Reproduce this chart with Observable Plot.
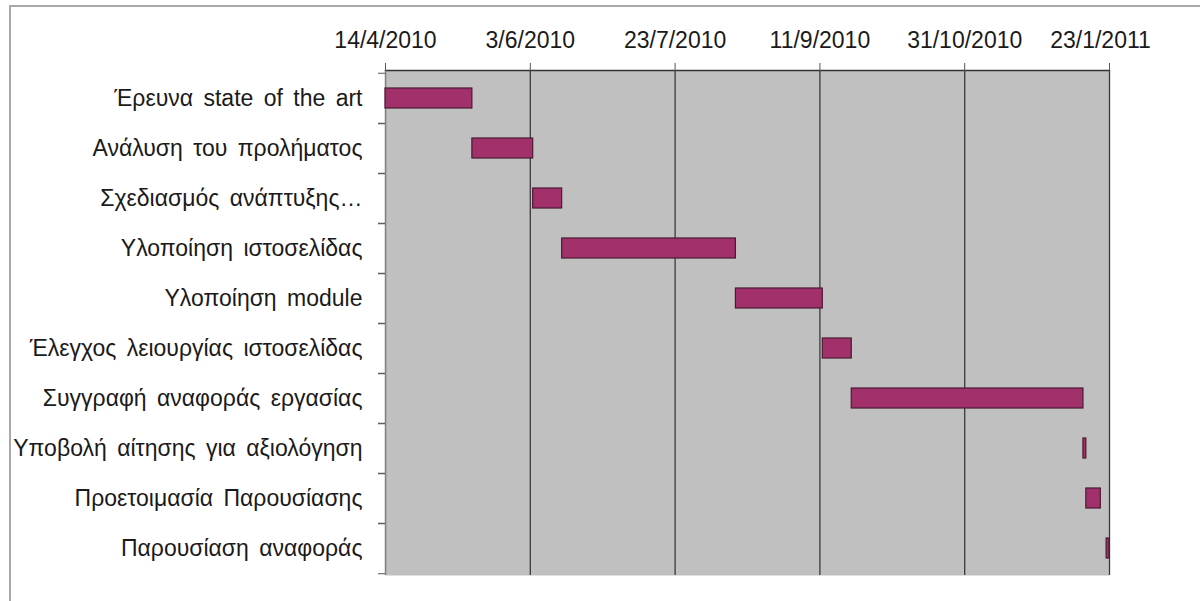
<!DOCTYPE html>
<html><head><meta charset="utf-8">
<script src="https://cdn.jsdelivr.net/npm/d3@7"></script>
<script src="https://cdn.jsdelivr.net/npm/@observablehq/plot@0.6"></script>
<style>
body{margin:0;background:#fff;width:1200px;height:601px;overflow:hidden;position:relative;font-family:"Liberation Sans",Arial,sans-serif;}
#frame{position:absolute;left:9px;top:5px;width:1400px;height:800px;border-top:2px solid #a8a8a8;border-left:2px solid #a8a8a8;}
#chart{position:absolute;left:0;top:0;}
#chart svg text{word-spacing:4px;}
</style></head><body><div id="frame"></div><div id="chart"></div>
<script>
const tasks = [
  "Έρευνα state of the art",
  "Ανάλυση του προλήματος",
  "Σχεδιασμός ανάπτυξης…",
  "Υλοποίηση ιστοσελίδας",
  "Υλοποίηση module",
  "Έλεγχος λειουργίας ιστοσελίδας",
  "Συγγραφή αναφοράς εργασίας",
  "Υποβολή αίτησης για αξιολόγηση",
  "Προετοιμασία Παρουσίασης",
  "Παρουσίαση αναφοράς"
];
const starts = ["2010-04-14","2010-05-14","2010-06-04","2010-06-14","2010-08-13","2010-09-12","2010-09-22","2010-12-11","2010-12-12","2010-12-19"];
const ends   = ["2010-05-14","2010-06-04","2010-06-14","2010-08-13","2010-09-12","2010-09-22","2010-12-11","2010-12-12","2010-12-17","2010-12-20"];
const axisRange = ["2010-04-14","2010-12-20"];
const tickPositions = ["2010-04-14","2010-06-03","2010-07-23","2010-09-11","2010-10-31","2010-12-20"];
const tickLabels = ["14/4/2010","3/6/2010","23/7/2010","11/9/2010","31/10/2010","23/1/2011"];

const parse = d3.utcParse("%Y-%m-%d");
const tickDates = tickPositions.map(parse);
const data = tasks.map((t, i) => ({task: t, start: parse(starts[i]), end: parse(ends[i])}));
const fmt = d => tickLabels[tickDates.findIndex(t => +t === +d)];
const lastTick = tickDates[tickDates.length - 1];

const H = 601, MT = 70, MB = 26;
const half = (H - MT - MB) / tasks.length / 2;

const plot = Plot.plot({
  width: 1200, height: H,
  marginLeft: 385, marginRight: 91, marginTop: MT, marginBottom: MB,
  style: {fontFamily: '"Liberation Sans", Arial, sans-serif', fontSize: "23px", color: "#1a1a1a", background: "transparent"},
  x: {type: "utc", domain: axisRange.map(parse), label: null},
  y: {domain: tasks, paddingInner: 0.604, paddingOuter: 0.302, align: 0.5, label: null},
  marks: [
    Plot.frame({fill: "#c0c0c0"}),
    Plot.gridX(tickDates, {stroke: "#3a3a3a", strokeOpacity: 1, strokeWidth: 1.3}),
    Plot.frame({anchor: "top", stroke: "#333", strokeWidth: 1.3}),
    Plot.ruleX([parse(axisRange[0])], {stroke: "#808080"}),
    Plot.axisX(tickDates, {anchor: "top", tickSize: 8, tickPadding: 15, tickFormat: d => +d === +lastTick ? "" : fmt(d), stroke: "#555", label: null}),
    Plot.axisX([lastTick], {anchor: "top", tickSize: 0, tickPadding: 23, dx: -9, tickFormat: fmt, label: null}),
    Plot.axisY({anchor: "left", tickSize: 0, tickPadding: 23, label: null}),
    Plot.axisY({anchor: "left", tickSize: 7, tickFormat: () => "", dy: half, stroke: "#555", label: null}),
    Plot.axisY({anchor: "left", tickSize: 7, tickFormat: () => "", dy: -half, stroke: "#555", label: null}),
    Plot.barX(data, {x1: "start", x2: "end", y: "task", fill: "#a2306a", stroke: "#4a1a32", strokeWidth: 1.2})
  ]
});
document.getElementById("chart").append(plot);
</script>
</body></html>
